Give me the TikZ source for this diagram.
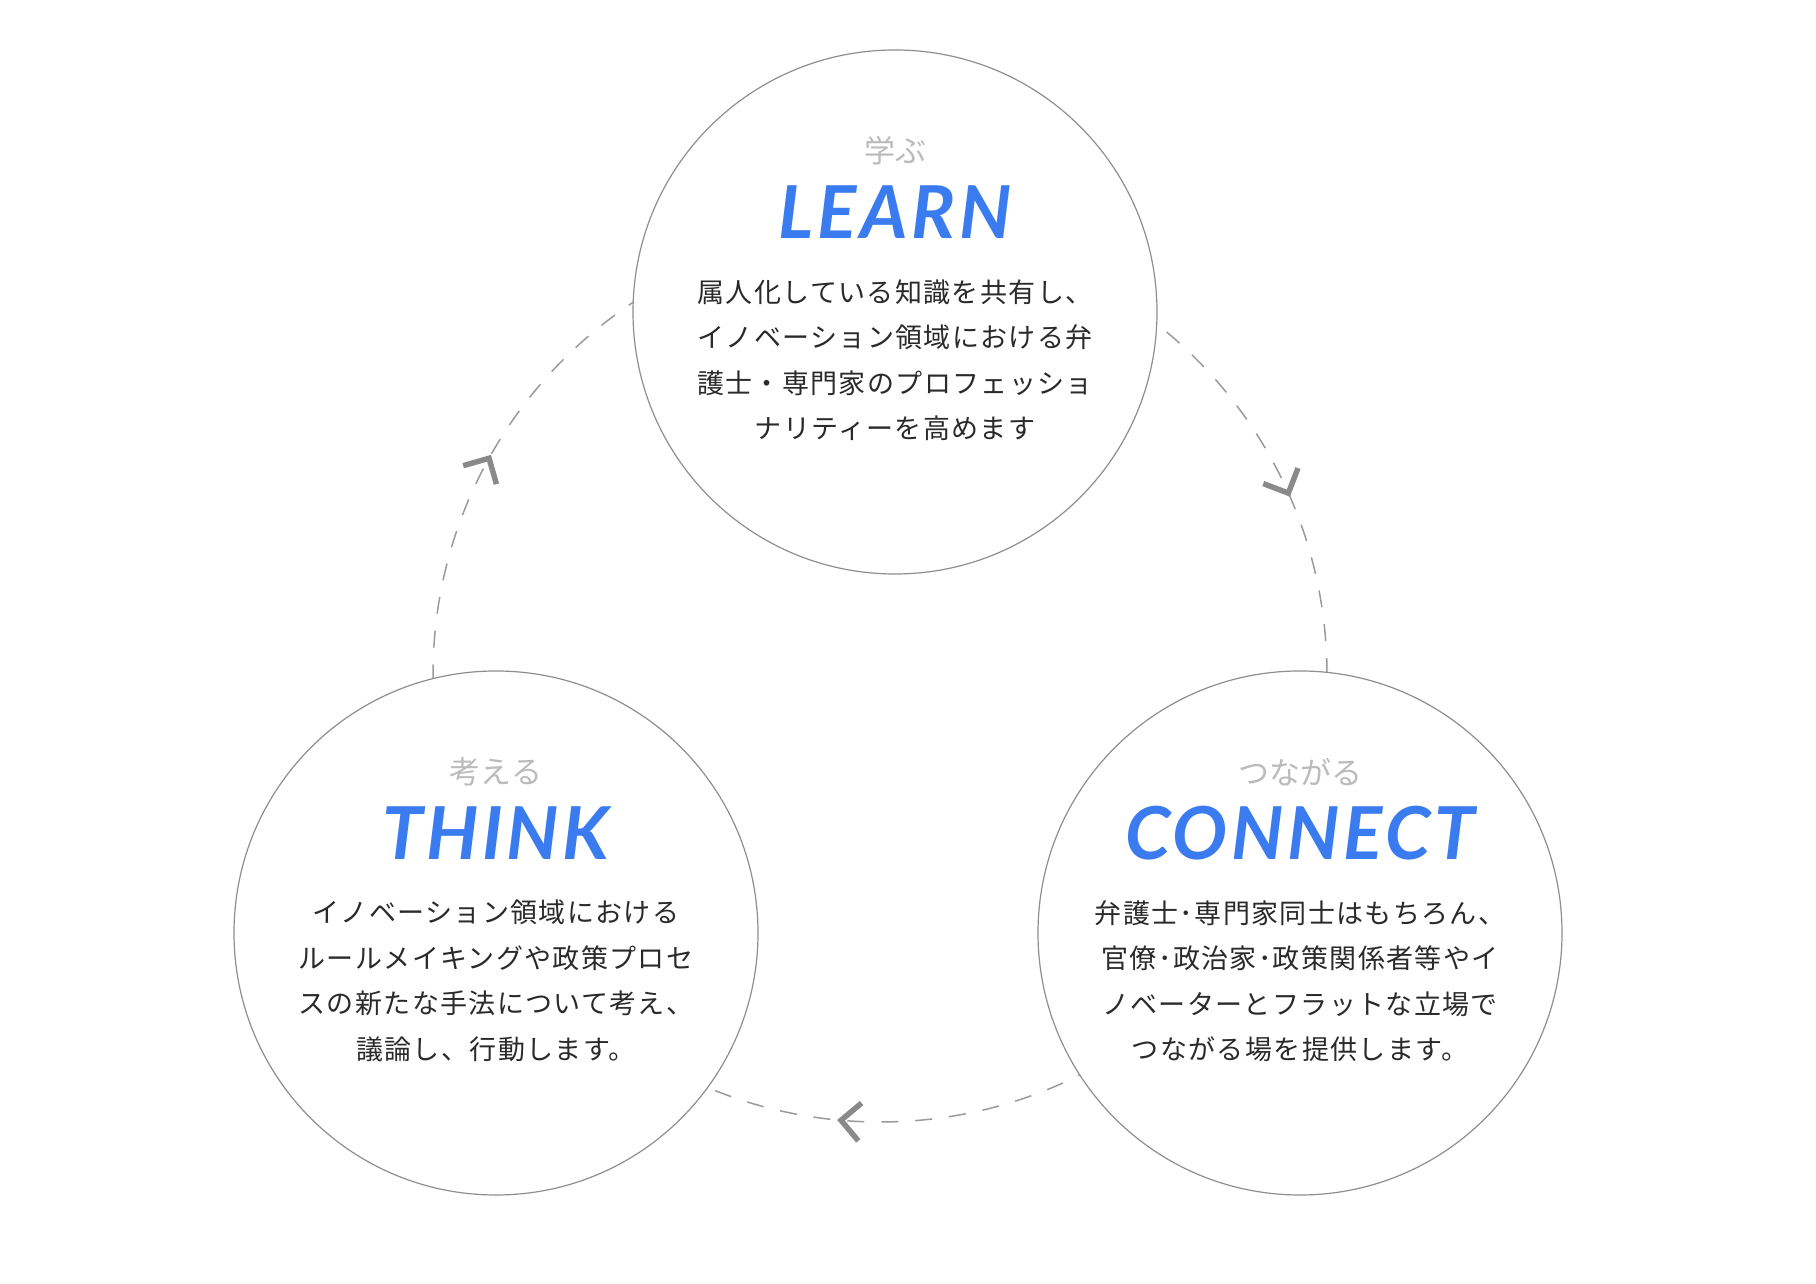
\documentclass[tikz,border=0pt]{standalone}
\usepackage{fontspec}
\usepackage{xcolor}
\usepackage{tikz}
\newfontfamily\jpfont[LetterSpace=5]{Noto Sans CJK JP}
\newfontfamily\kanafont{Noto Sans CJK JP}
\newfontfamily\titlefont[LetterSpace=5]{Lato}
\definecolor{headblue}{HTML}{3A7CF0}
\definecolor{kanagray}{HTML}{BBBBBB}
\definecolor{bodygray}{HTML}{2A2A2A}
\definecolor{rimgray}{HTML}{8E8E8E}
\definecolor{ringgray}{HTML}{9A9A9A}
\definecolor{chevgray}{HTML}{8A8A8A}
\tikzset{
  stage/.style={circle,draw=rimgray,line width=1.2pt,fill=white,minimum size=524pt,inner sep=0pt},
  kana/.style={font={\kanafont\fontsize{31}{36}\selectfont},text=kanagray,inner sep=0pt},
  heading/.style={font={\titlefont\bfseries\itshape\fontsize{73}{80}\selectfont},text=headblue,inner sep=0pt},
  blurb/.style={font={\jpfont\fontsize{27}{45.5}\selectfont},text=bodygray,align=center,inner sep=0pt},
  ring/.style={draw=ringgray,line width=1.5pt,dash pattern=on 17pt off 17pt},
  chevron/.style={draw=chevgray,line width=5.5pt},
}

\begin{document}
\begin{tikzpicture}[x=1pt,y=1pt]
  \useasboundingbox (0,0) rectangle (1816,1284);
  % dashed cycle behind the three circles
  \coordinate (ring) at (880,609);
  \draw[ring] (ring) circle[radius=447pt];

  \node[stage] (learn) at (895,972) {};
  \node[stage] (think) at (496,351) {};
  \node[stage] (connect) at (1300,351) {};

  \node[kana] (learnkana) at ([yshift=161pt]learn.center) {学ぶ};
  \node[heading] (learnhead) at ([yshift=100pt]learn.center) {LEARN};
  \node[blurb] (learntext) at ([yshift=-48pt]learn.center)
    {属人化している知識を共有し、\\イノベーション領域における弁\\護士・専門家のプロフェッショ\\ナリティーを高めます};

  \node[kana] (thinkkana) at ([yshift=161pt]think.center) {考える};
  \node[heading] (thinkhead) at ([yshift=100pt]think.center) {THINK};
  \node[blurb] (thinktext) at ([yshift=-48pt]think.center)
    {イノベーション領域における\\ルールメイキングや政策プロセ\\スの新たな手法について考え、\\議論し、行動します。};

  \node[kana] (connectkana) at ([yshift=161pt]connect.center) {つながる};
  \node[heading] (connecthead) at ([yshift=100pt]connect.center) {CONNECT};
  \node[blurb] (connecttext) at ([yshift=-48pt]connect.center)
    {弁護士･専門家同士はもちろん、\\官僚･政治家･政策関係者等やイ\\ノベーターとフラットな立場で\\つながる場を提供します。};

  % clockwise chevrons on the ring
  \foreach \a in {151,24,265}
    \draw[chevron,shift={(880,609)},rotate=\a] (428,19) -- (447,0) -- (466,19);
\end{tikzpicture}
\end{document}
